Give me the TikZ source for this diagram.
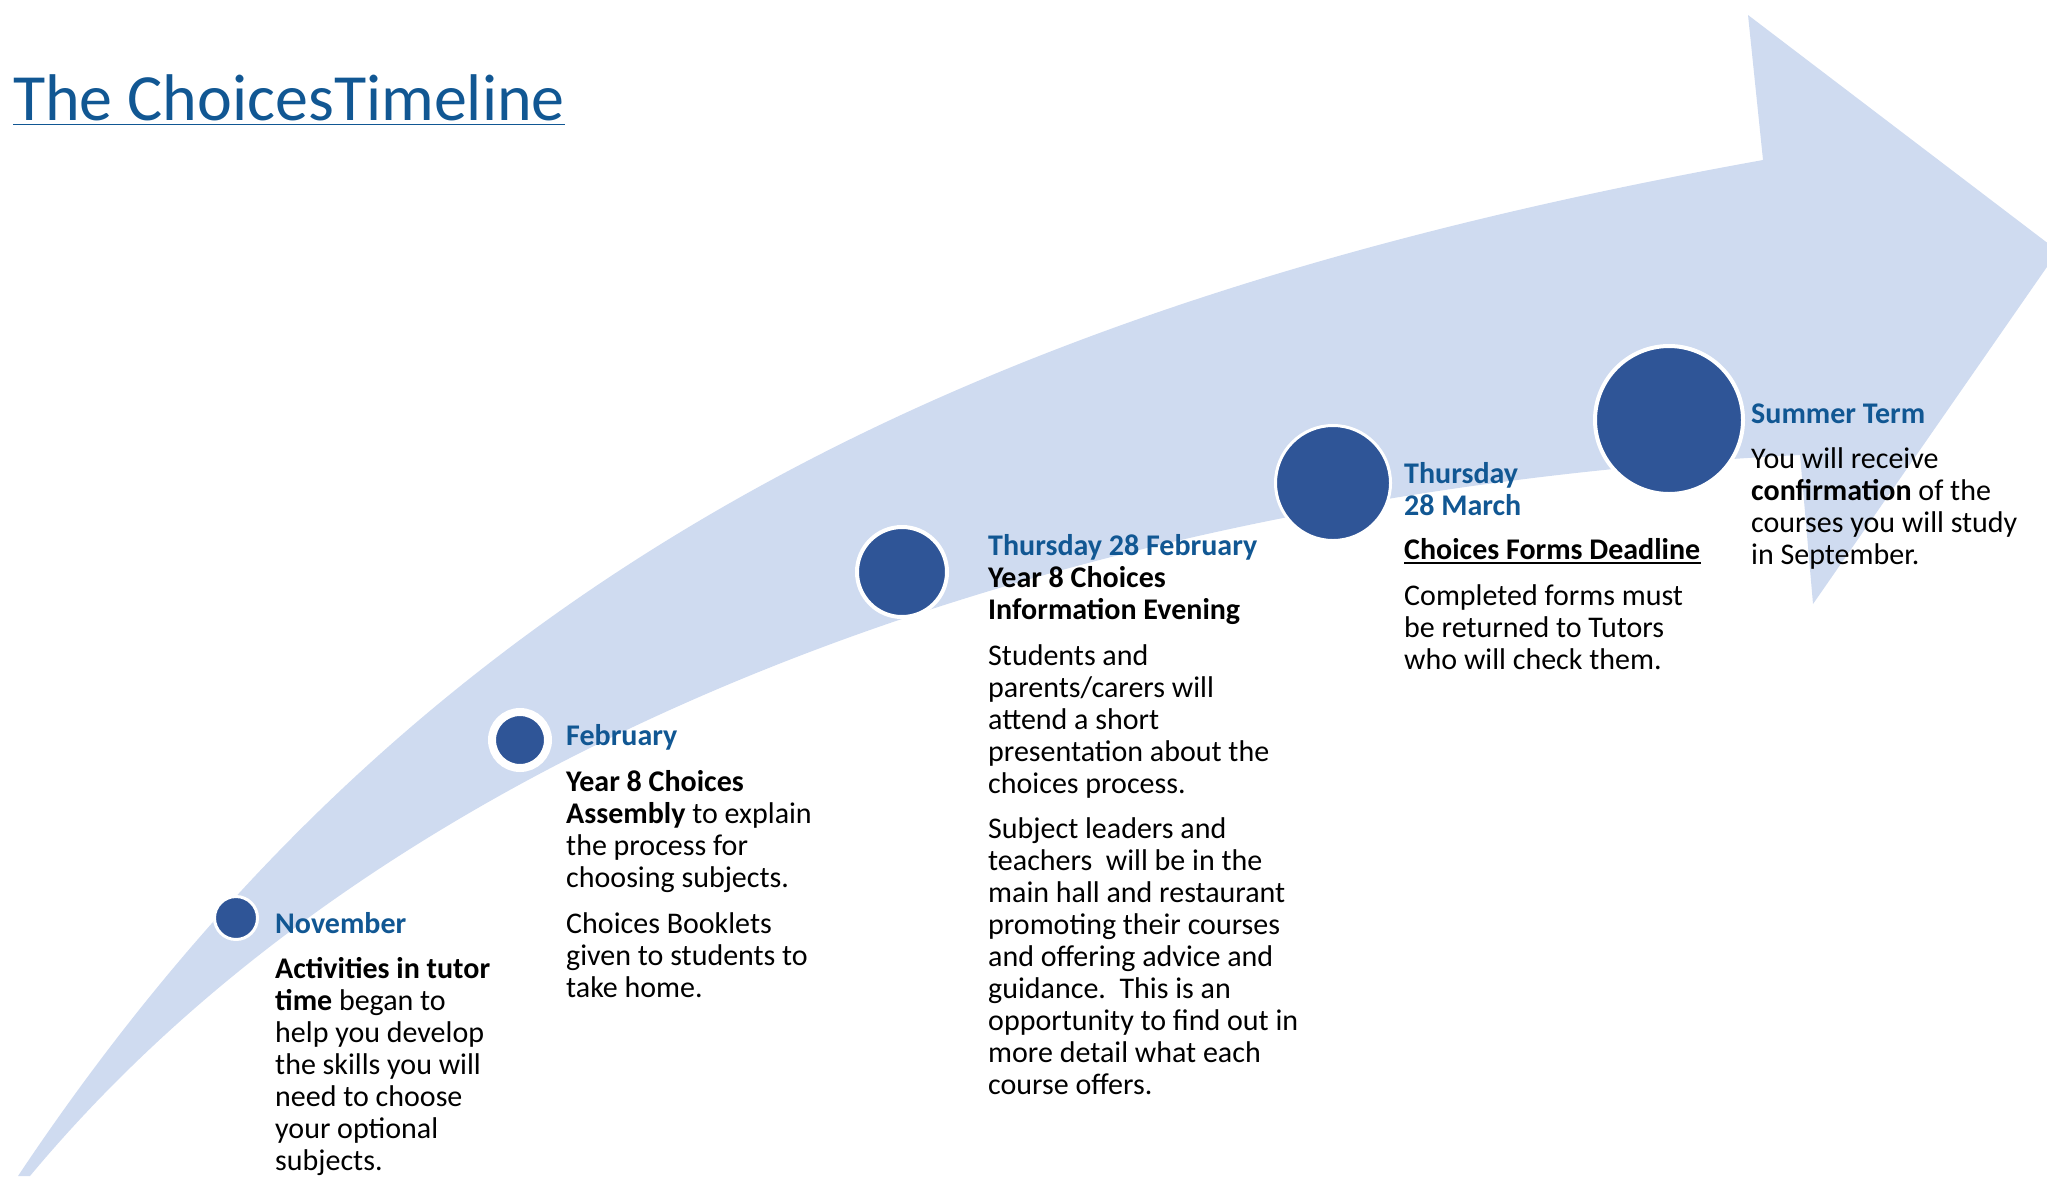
\documentclass[tikz,border=0pt]{standalone}
\usepackage{fontspec}
\setmainfont{Carlito}
\definecolor{bandblue}{RGB}{207,219,240}
\definecolor{dotblue}{RGB}{47,85,151}
\definecolor{headblue}{RGB}{17,87,147}

\begin{document}
\begin{tikzpicture}[x=1pt,y=-1pt,
   milestone/.style={circle,fill=dotblue,draw=white,line width=3pt,inner sep=0pt},
   when/.style={anchor=base west,inner sep=0pt,align=left,text=headblue,
      font=\fontsize{30}{32}\selectfont\bfseries},
   what/.style={anchor=base west,inner sep=0pt,align=left,
      font=\fontsize{30}{32}\selectfont}]
\useasboundingbox (0,0) rectangle (2047,1176);
% the big curved arrow
\begin{scope}
\clip (0,0) rectangle (2047,1176);
\fill[bandblue] (18,1176) .. controls (418,576) and (963,304) .. (1763,160)
  -- (1748,15) -- (2058,251) -- (1813,604) -- (1800,455)
  .. controls (1100,490) and (410,720) .. (30,1176) -- cycle;
\end{scope}
% title
\node[anchor=base west,inner sep=0pt,text=headblue,font=\fontsize{66}{70}\selectfont]
  (title) at (13,120) {The ChoicesTimeline};
\draw[headblue,line width=1.5pt] ([yshift=-4.5pt]title.base west) -- ([yshift=-4.5pt]title.base east);
% the milestones
\node[milestone,minimum size=43pt] (nov) at (236,918) {};
\node[milestone,line width=8pt,minimum size=56pt] (feb) at (520,740) {};
\node[milestone,line width=4pt,minimum size=90pt] (thufeb) at (902,572) {};
\node[milestone,minimum size=115pt] (thumar) at (1333,483) {};
\node[milestone,line width=4pt,minimum size=148pt] (summer) at (1669,420) {};
% November (multi-line texts sit on their last baseline)
\node[when] (novwhen) at (275,933) {November};
\node[what] (novwhat) at (275,1170) {\textbf{Activities in tutor}\\\textbf{time} began to\\
  help you develop\\the skills you will\\need to choose\\your optional\\subjects.};
% February
\node[when] (febwhen) at (566,745) {February};
\node[what] (febwhat) at (566,887) {\textbf{Year 8 Choices}\\\textbf{Assembly} to explain\\
  the process for\\choosing subjects.};
\node[what] (febmore) at (566,997) {Choices Booklets\\given to students to\\take home.};
% Thursday 28 February
\node[when] (thufebwhen) at (988,555) {Thursday 28 February};
\node[what,font=\fontsize{30}{32}\selectfont\bfseries] (thufebwhat) at (988,619)
  {Year 8 Choices\\Information Evening};
\node[what] (thufebtalk) at (988,793) {Students and\\parents/carers will\\attend a short\\
  presentation about the\\choices process.};
\node[what] (thufebhall) at (988,1094) {Subject leaders and\\teachers\ \ will be in the\\
  main hall and restaurant\\promoting their courses\\and offering advice and\\
  guidance.\ \ This is an\\opportunity to find out in\\more detail what each\\course offers.};
% Thursday 28 March
\node[when] (thumarwhen) at (1404,515) {Thursday\\28 March};
\node[what,font=\fontsize{30}{32}\selectfont\bfseries] (thumardue) at (1404,559)
  {Choices Forms Deadline};
\draw[line width=1.5pt] ([yshift=-4pt]thumardue.base west) -- ([yshift=-4pt]thumardue.base east);
\node[what] (thumarwhat) at (1404,669) {Completed forms must\\be returned to Tutors\\
  who will check them.};
% Summer Term
\node[when] (sumwhen) at (1751,423) {Summer Term};
\node[what] (sumwhat) at (1751,564) {You will receive\\\textbf{confirmation} of the\\
  courses you will study\\in September.};
\end{tikzpicture}
\end{document}
